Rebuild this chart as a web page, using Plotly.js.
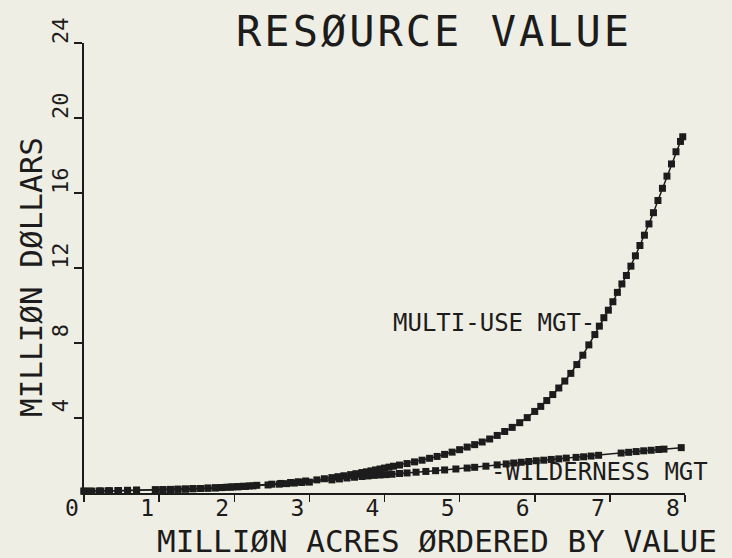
<!DOCTYPE html>
<html>
<head>
<meta charset="utf-8">
<script src="https://cdn.plot.ly/plotly-3.0.1.min.js"></script>
<style>
html,body{margin:0;padding:0;background:#efeee4;}
#chart{width:732px;height:558px;}
.gtitle{letter-spacing:3px;}
</style>
</head>
<body>
<div id="chart"></div>
<script>
// Multi-use management series (million acres, million dollars)
const multiX = [0,0.08,0.2,0.32,0.45,0.58,0.7,0.95,1.05,1.15,
  1.25,1.35,1.45,1.55,1.65,1.75,1.82,1.9,1.98,2.05,
  2.12,2.2,2.3,2.5,2.62,2.75,2.85,2.95,3.1,3.2,
  3.3,3.38,3.46,3.55,3.62,3.7,3.76,3.82,3.88,3.94,
  4.0,4.06,4.12,4.2,4.3,4.4,4.5,4.6,4.7,4.8,
  4.9,5.0,5.1,5.2,5.3,5.4,5.5,5.6,5.7,5.8,
  5.9,6.0,6.08,6.16,6.24,6.32,6.4,6.48,6.56,6.64,
  6.72,6.8,6.86,6.92,6.98,7.04,7.1,7.16,7.22,7.28,
  7.34,7.4,7.46,7.52,7.58,7.64,7.7,7.76,7.82,7.88,
  7.94,7.97];
const multiY = [0.1,0.1,0.11,0.12,0.13,0.14,0.15,0.17,0.18,0.19,
  0.2,0.21,0.23,0.24,0.26,0.28,0.29,0.31,0.33,0.34,
  0.36,0.38,0.41,0.47,0.51,0.56,0.6,0.64,0.7,0.76,
  0.82,0.87,0.92,0.98,1.03,1.09,1.13,1.18,1.23,1.28,
  1.33,1.38,1.43,1.49,1.57,1.66,1.75,1.85,1.95,2.06,
  2.18,2.31,2.45,2.58,2.72,2.88,3.07,3.28,3.5,3.75,
  4.02,4.35,4.62,4.93,5.25,5.6,5.97,6.38,6.85,7.35,
  7.9,8.45,8.9,9.35,9.75,10.2,10.7,11.15,11.6,12.1,
  12.65,13.2,13.75,14.35,14.95,15.6,16.25,16.9,17.55,18.2,
  18.75,19.0];
// Wilderness management series
const wildX = [0,0.1,0.22,0.34,0.46,0.58,0.7,0.95,1.05,1.15,
  1.25,1.35,1.45,1.55,1.65,1.75,1.85,1.95,2.05,2.15,
  2.25,2.45,2.6,2.7,2.8,2.9,3.0,3.3,3.4,3.5,
  3.6,3.7,3.78,3.86,3.94,4.02,4.1,4.2,4.3,4.42,
  4.55,4.68,4.8,4.95,5.1,5.2,5.35,5.5,5.62,5.72,
  5.82,5.92,6.02,6.12,6.22,6.32,6.42,6.55,6.65,6.75,
  6.85,7.15,7.25,7.35,7.45,7.55,7.65,7.72,7.95];
const wildY = [0.1,0.1,0.11,0.12,0.13,0.14,0.15,0.17,0.18,0.19,
  0.2,0.21,0.23,0.24,0.26,0.27,0.29,0.31,0.33,0.35,
  0.38,0.43,0.47,0.5,0.53,0.56,0.58,0.7,0.75,0.8,
  0.84,0.88,0.91,0.94,0.96,0.98,1.0,1.04,1.07,1.11,
  1.15,1.19,1.23,1.28,1.33,1.37,1.43,1.5,1.55,1.6,
  1.64,1.68,1.72,1.75,1.79,1.82,1.86,1.9,1.93,1.97,
  2.01,2.13,2.17,2.21,2.25,2.28,2.32,2.34,2.42];
// Axis ticks
const xTicks = [0,1,2,3,4,5,6,7,8];
const xTickLabels = ["0","1","2","3","4","5","6","7","8"];
const yTicks = [4,8,12,16,20,24];
const yTickLabels = ["4","8","12","16","20","24"];
// Texts
const titleText = "RESØURCE VALUE";
const xTitle = "MILLIØN ACRES ØRDERED BY VALUE";
const yTitle = "MILLIØN DØLLARS";
const multiLabel = "MULTI-USE MGT-";
const wildLabel = "-WILDERNESS MGT";

const ink = "#1c1c1c";
const fontFam = "DejaVu Sans Mono, monospace";

const traces = [
  {x: multiX, y: multiY, mode: "lines+markers", type: "scatter",
   line: {color: ink, width: 1.5}, marker: {symbol: "square", size: 7, color: ink},
   cliponaxis: false, hoverinfo: "skip"},
  {x: wildX, y: wildY, mode: "lines+markers", type: "scatter",
   line: {color: ink, width: 1.5}, marker: {symbol: "square", size: 7, color: ink},
   cliponaxis: false, hoverinfo: "skip"}
];

const layout = {
  width: 732, height: 558,
  margin: {l: 84, r: 47, t: 43, b: 65, pad: 0},
  paper_bgcolor: "#efeee4", plot_bgcolor: "#efeee4",
  showlegend: false,
  font: {family: fontFam, color: ink},
  title: {text: titleText, font: {family: fontFam, size: 42, color: ink},
          xref: "container", x: 0.593, xanchor: "center",
          yref: "container", y: 0.944, yanchor: "middle"},
  xaxis: {range: [0, 8], showgrid: false, zeroline: false,
          showline: true, linecolor: ink, linewidth: 2,
          ticks: "outside", ticklen: 7, tickwidth: 1.5, tickcolor: ink,
          tickvals: xTicks, ticktext: xTickLabels,
          tickfont: {family: fontFam, size: 23, color: ink},
          ticklabelshift: -12, ticklabelstandoff: -14},
  yaxis: {range: [0, 24], showgrid: false, zeroline: false,
          showline: true, linecolor: ink, linewidth: 2,
          ticks: "outside", ticklen: 8, tickwidth: 1.5, tickcolor: ink,
          tickvals: yTicks, ticktext: yTickLabels, tickangle: -90,
          tickfont: {family: fontFam, size: 22, color: ink},
          ticklabelshift: -9, ticklabelstandoff: -3},
  annotations: [
    {text: xTitle, xref: "paper", yref: "paper",
     x: (437 - 84) / 601, y: -(541 - 493) / 450, xanchor: "center", yanchor: "middle",
     showarrow: false, font: {family: fontFam, size: 31, color: ink}},
    {text: yTitle, xref: "paper", yref: "paper", textangle: -90,
     x: (31 - 84) / 601, y: (493 - 277) / 450, xanchor: "center", yanchor: "middle",
     showarrow: false, font: {family: fontFam, size: 31, color: ink}},
    {text: multiLabel, xref: "x", yref: "y", x: 6.83, y: 9.07,
     xanchor: "right", yanchor: "middle", showarrow: false,
     font: {family: fontFam, size: 24, color: ink}},
    {text: wildLabel, xref: "x", yref: "y", x: 5.39, y: 1.1,
     xanchor: "left", yanchor: "middle", showarrow: false,
     font: {family: fontFam, size: 24, color: ink}}
  ]
};

Plotly.newPlot("chart", traces, layout, {displayModeBar: false, staticPlot: true});
</script>
</body>
</html>
